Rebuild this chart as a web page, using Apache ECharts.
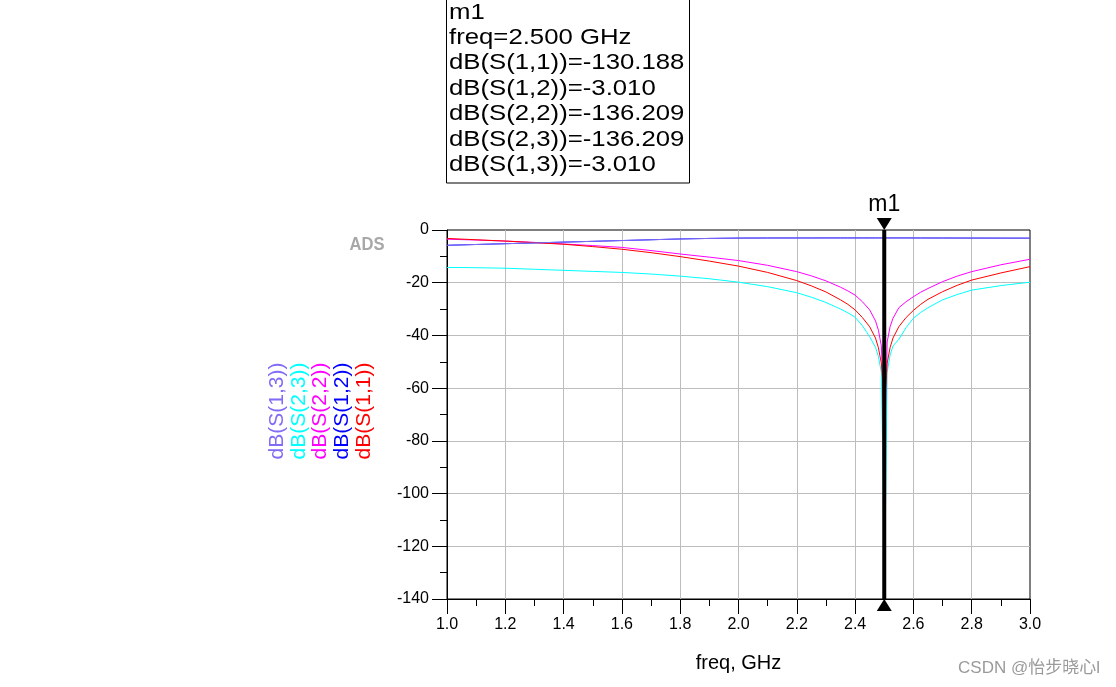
<!DOCTYPE html>
<html>
<head>
<meta charset="utf-8">
<script src="https://cdn.jsdelivr.net/npm/echarts@6/dist/echarts.min.js"></script>
<style>
  html, body { margin: 0; padding: 0; background: #fff; }
  #chart { width: 1116px; height: 687px; }
</style>
</head>
<body>
<div id="chart"></div>
<script>
// sweep points, GHz
const freq = [1.0, 1.1, 1.2, 1.3, 1.4, 1.5, 1.6, 1.7, 1.8, 1.9, 2.0, 2.1, 2.2,
  2.25, 2.3, 2.35, 2.375, 2.4, 2.425, 2.45, 2.47, 2.48, 2.49, 2.495,
  2.5,
  2.505, 2.51, 2.52, 2.53, 2.55, 2.575, 2.6, 2.625, 2.65, 2.7, 2.75, 2.8, 2.9, 3.0];
const s11 = [-3.2, -3.7, -4.2, -4.8, -5.4, -6.3, -7.3, -8.6, -10.1, -11.8, -13.7, -16.1, -19.2,
  -21.2, -23.5, -26.5, -28.2, -30.3, -33.2, -36.7, -41, -44.7, -50.5, -58,
  -130.188,
  -60, -50.5, -44.6, -41, -36.7, -33.2, -30.5, -28.2, -26.3, -23.4, -21, -19, -16.3, -13.9];
const s22 = [-3.5, -3.8, -4.2, -4.7, -5.3, -5.9, -6.6, -7.8, -9.1, -10.3, -11.6, -13.4, -15.8,
  -17.4, -19.3, -21.7, -23.1, -24.7, -27.2, -30.3, -34.5, -38, -44, -58,
  -136.209,
  -70, -42.5, -36.7, -33.5, -29.5, -27.2, -25.3, -23.6, -22.2, -19.6, -17.5, -15.8, -13.2, -11.1];
const s23 = [-14.2, -14.3, -14.5, -14.9, -15.3, -15.7, -16.1, -16.7, -17.5, -18.5, -19.8, -21.5, -23.8,
  -25.5, -27.5, -30, -31.4, -33.1, -36.3, -40.5, -44.5, -48, -54, -86,
  -136.209,
  -100, -54, -47.5, -44, -41.5, -37, -33.5, -31.3, -29.5, -26.5, -24.5, -22.8, -21.1, -19.8];
const s13 = [-5.8, -5.5, -5.2, -4.9, -4.6, -4.3, -4.0, -3.7, -3.4, -3.2, -3.07, -3.03, -3.02,
  -3.02, -3.01, -3.01, -3.01, -3.01, -3.01, -3.01, -3.01, -3.01, -3.01, -3.01,
  -3.010,
  -3.01, -3.01, -3.01, -3.01, -3.01, -3.01, -3.02, -3.02, -3.03, -3.04, -3.05, -3.06, -3.08, -3.1];
// S(1,2) equals S(1,3), drawn underneath it
const s12 = [-5.8, -5.5, -5.2, -4.9, -4.6, -4.3, -4.0, -3.7, -3.4, -3.2, -3.07, -3.03, -3.02,
  -3.02, -3.01, -3.01, -3.01, -3.01, -3.01, -3.01, -3.01, -3.01, -3.01, -3.01,
  -3.010,
  -3.01, -3.01, -3.01, -3.01, -3.01, -3.01, -3.02, -3.02, -3.03, -3.04, -3.05, -3.06, -3.08, -3.1];

const markerFreq = 2.5;
const markerText = ['m1', 'freq=2.500 GHz', 'dB(S(1,1))=-130.188', 'dB(S(1,2))=-3.010',
  'dB(S(2,2))=-136.209', 'dB(S(2,3))=-136.209', 'dB(S(1,3))=-3.010'];
const traceNames = ['dB(S(1,3))', 'dB(S(2,3))', 'dB(S(2,2))', 'dB(S(1,2))', 'dB(S(1,1))'];
const traceColors = ['#806cf5', '#00ffff', '#ff00ff', '#0000ff', '#ff0000'];

const FONT = '"Liberation Sans", Arial, sans-serif';

function pairs(ys) {
  return freq.map((f, i) => [f, ys[i]]);
}

const myChart = echarts.init(document.getElementById('chart'));

// marker readout box and stacked y names
let graphics = [
  {
    type: 'rect',
    shape: { x: 446.5, y: -2, width: 243, height: 185 },
    style: { fill: '#fff', stroke: '#000', lineWidth: 1 },
  },
];
markerText.forEach((t, i) => {
  graphics.push({
    type: 'text',
    x: 449,
    y: 12.5 + i * 25.4,
    scaleX: 1.17,
    style: { text: t, font: '22px ' + FONT, fill: '#000', textAlign: 'left', textVerticalAlign: 'middle' },
  });
});
traceNames.forEach((t, i) => {
  graphics.push({
    type: 'text',
    x: 277 + i * 21.8,
    y: 411,
    rotation: Math.PI / 2,
    style: { text: t, font: '21px ' + FONT, fill: traceColors[i], textAlign: 'center', textVerticalAlign: 'middle' },
  });
});
graphics.push({
  type: 'text',
  x: 367,
  y: 245,
  scaleX: 0.92,
  style: {
    text: 'ADS', font: 'bold 18px ' + FONT, fill: '#a8a8a8', textAlign: 'center', textVerticalAlign: 'middle',
    textShadowColor: '#666', textShadowOffsetX: 1, textShadowOffsetY: 1, textShadowBlur: 0,
  },
});
graphics.push({
  type: 'text',
  x: 1100,
  y: 668,
  style: {
    text: 'CSDN @怡步晓心l', font: '17px "Liberation Sans", "Noto Sans CJK SC", sans-serif',
    fill: '#9a9a9a', textAlign: 'right', textVerticalAlign: 'middle',
  },
});

const option = {
  animation: false,
  backgroundColor: '#fff',
  graphic: graphics,
  grid: {
    left: 447,
    top: 230,
    width: 583,
    height: 369,
    show: true,
    borderColor: '#000',
    borderWidth: 1,
    outerBoundsMode: 'none',
    containLabel: false,
  },
  xAxis: {
    type: 'value',
    min: 1,
    max: 3,
    interval: 0.2,
    name: 'freq, GHz',
    nameLocation: 'middle',
    nameGap: 54,
    nameTextStyle: { color: '#000', fontSize: 20, fontFamily: FONT },
    axisLine: { show: true, onZero: false, lineStyle: { color: '#000', width: 1 } },
    axisTick: { show: true, inside: false, length: 15, lineStyle: { color: '#000' } },
    minorTick: { show: true, splitNumber: 2, length: 7, lineStyle: { color: '#000' } },
    axisLabel: {
      color: '#000', fontSize: 16, fontFamily: FONT, margin: 18,
      formatter: (v) => v.toFixed(1),
    },
    splitLine: { show: true, showMinLine: false, showMaxLine: false, lineStyle: { color: '#bdbdbd', width: 1 } },
  },
  yAxis: {
    type: 'value',
    min: -140,
    max: 0,
    interval: 20,
    axisLine: { show: true, onZero: false, lineStyle: { color: '#000', width: 1 } },
    axisTick: { show: true, inside: false, length: 15, lineStyle: { color: '#000' } },
    minorTick: { show: true, splitNumber: 2, length: 7, lineStyle: { color: '#000' } },
    axisLabel: { color: '#000', fontSize: 16, fontFamily: FONT, margin: 18 },
    splitLine: { show: true, showMinLine: false, showMaxLine: false, lineStyle: { color: '#bdbdbd', width: 1 } },
  },
  series: [
    { name: 'dB(S(2,2))', type: 'line', data: pairs(s22), color: '#ff00ff' },
    { name: 'dB(S(2,3))', type: 'line', data: pairs(s23), color: '#00ffff' },
    { name: 'dB(S(1,2))', type: 'line', data: pairs(s12), color: '#0000ff' },
    { name: 'dB(S(1,1))', type: 'line', data: pairs(s11), color: '#ff0000' },
    { name: 'dB(S(1,3))', type: 'line', data: pairs(s13), color: '#806cf5' },
  ].map((s) => Object.assign(s, {
    symbol: 'none',
    smooth: false,
    lineStyle: { width: 1, color: s.color },
    silent: true,
  })),
};

// marker m1
option.series.push({
  name: 'm1',
  type: 'line',
  data: [[markerFreq, 0], [markerFreq, -140]],
  symbol: 'none',
  lineStyle: { color: '#000', width: 4 },
  z: 10,
  silent: true,
  markPoint: {
    silent: true,
    data: [
      {
        coord: [markerFreq, 0],
        symbol: 'triangle',
        symbolRotate: 180,
        symbolSize: [15, 12],
        symbolOffset: [0, -6],
        itemStyle: { color: '#000' },
        label: { show: true, position: 'top', distance: 2, formatter: 'm1', color: '#000', fontSize: 23, fontFamily: FONT },
      },
      {
        coord: [markerFreq, -140],
        symbol: 'triangle',
        symbolSize: [15, 12],
        symbolOffset: [0, 6],
        itemStyle: { color: '#000' },
        label: { show: false },
      },
    ],
  },
});

myChart.setOption(option, true);
window.addEventListener('resize', () => {
  myChart.resize();
});
</script>
</body>
</html>
